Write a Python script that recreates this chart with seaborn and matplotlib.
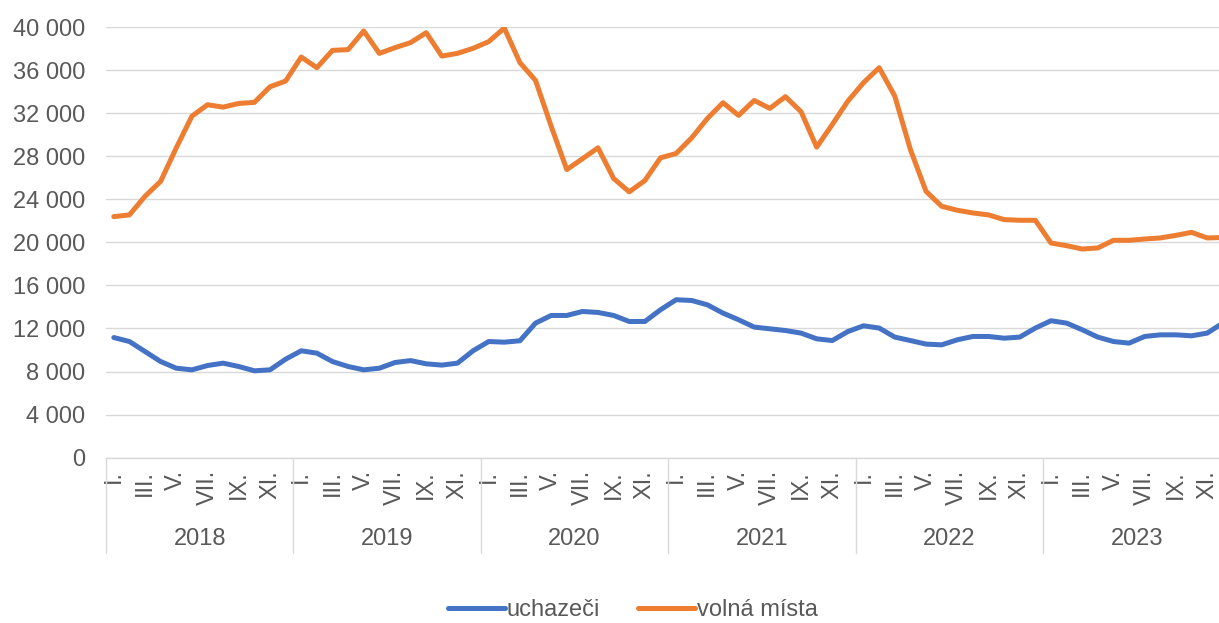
import numpy as np
import pandas as pd
import matplotlib
matplotlib.use("Agg")
import matplotlib.pyplot as plt
import matplotlib.transforms as mtransforms
from matplotlib.ticker import FuncFormatter
import seaborn as sns

# ---- DATA (monthly, 2018-2023) ----
years = ["2018", "2019", "2020", "2021", "2022", "2023"]
month_labels = ["I.", "III.", "V.", "VII.", "IX.", "XI."]

uchazeci = [11160, 10790, 9860, 8930, 8310, 8160, 8560, 8780, 8470, 8070, 8160, 9150,
            9930, 9710, 8930, 8470, 8160, 8310, 8840, 9020, 8720, 8600, 8780, 9930,
            10790, 10730, 10860, 12500, 13210, 13210, 13580, 13490, 13210, 12650, 12650, 13740,
            14670, 14600, 14200, 13430, 12810, 12130, 11970, 11810, 11570, 11040, 10880, 11720,
            12250, 12040, 11200, 10880, 10550, 10480, 10950, 11260, 11260, 11100, 11200, 12040,
            12720, 12500, 11880, 11200, 10790, 10640, 11260, 11410, 11410, 11320, 11570, 12500]

volna_mista = [22390, 22550, 24280, 25670, 28780, 31720, 32780, 32560, 32900, 33000, 34450, 34980,
               37210, 36220, 37830, 37900, 39630, 37550, 38080, 38550, 39470, 37300, 37550, 38020,
               38640, 39900, 36690, 35040, 30790, 26760, 27760, 28780, 25930, 24690, 25740, 27850,
               28250, 29710, 31500, 32970, 31790, 33180, 32440, 33530, 32130, 28840, 30950, 33120,
               34830, 36220, 33580, 28620, 24740, 23350, 22980, 22730, 22550, 22110, 22050, 22050,
               19940, 19690, 19380, 19480, 20190, 20190, 20310, 20410, 20650, 20930, 20410, 20450]

series_names = ["uchazeči", "volná místa"]
colors = ["#4472C4", "#ED7D31"]

n = len(uchazeci)
df = pd.DataFrame({
    "idx": list(range(n)) * 2,
    "value": uchazeci + volna_mista,
    "serie": [series_names[0]] * n + [series_names[1]] * n,
})

# ---- STYLE ----
sns.set_theme(style="white")
plt.rcParams["font.family"] = ["Liberation Sans", "DejaVu Sans"]
TXT = "#595959"
GRID = "#D9D9D9"
FS = 17

W, H = 1219, 623
fig = plt.figure(figsize=(W / 100, H / 100), dpi=100)
left_px, right_px, top_px, bot_px = 106, 1230.6, 27, 457.7
ax = fig.add_axes([left_px / W, 1 - bot_px / H,
                   (right_px - left_px) / W, (bot_px - top_px) / H])

sns.lineplot(data=df, x="idx", y="value", hue="serie", palette=colors,
             linewidth=3.6, ax=ax, legend=True)

ax.set_xlim(-0.5, n - 0.5)
ax.set_ylim(0, 40000)
ax.set_yticks(np.arange(0, 40001, 4000))
ax.yaxis.set_major_formatter(FuncFormatter(lambda v, p: f"{int(v):,}".replace(",", " ")))
ax.grid(axis="y", color=GRID, linewidth=1.0)
ax.grid(axis="x", visible=False)
for s in ["top", "right", "left"]:
    ax.spines[s].set_visible(False)
ax.spines["bottom"].set_color(GRID)
ax.spines["bottom"].set_linewidth(1.0)
ax.set_xlabel("")
ax.set_ylabel("")

# month ticks (every second month)
xt = list(range(0, n, 2))
ax.set_xticks(xt)
ax.set_xticklabels(month_labels * len(years), rotation=90, color=TXT, fontsize=FS)
ax.tick_params(axis="x", length=0, pad=9)
ax.tick_params(axis="y", length=0, pad=15, labelcolor=TXT, labelsize=FS)

# year separators and labels
trans = mtransforms.blended_transform_factory(ax.transData, ax.transAxes)
sep_bottom = (bot_px - 553) / (bot_px - top_px)
year_y = (bot_px - 539) / (bot_px - top_px)
for k in range(len(years) + 1):
    xs = -0.5 + 12 * k
    ax.plot([xs, xs], [0, sep_bottom], color=GRID, lw=1.0, transform=trans, clip_on=False)
for k, yr in enumerate(years):
    ax.text(5.5 + 12 * k, year_y, yr, transform=trans, ha="center", va="center",
            fontsize=FS, color=TXT)

# legend at the bottom
handles, labels = ax.get_legend_handles_labels()
ax.legend(handles, labels, loc="center", bbox_to_anchor=(633 / W, 1 - 610 / H),
          bbox_transform=fig.transFigure, ncol=2, frameon=False, fontsize=FS,
          handlelength=2.4, handletextpad=0.1, columnspacing=1.6, labelcolor=TXT)

fig.savefig("out.png", dpi=100)
